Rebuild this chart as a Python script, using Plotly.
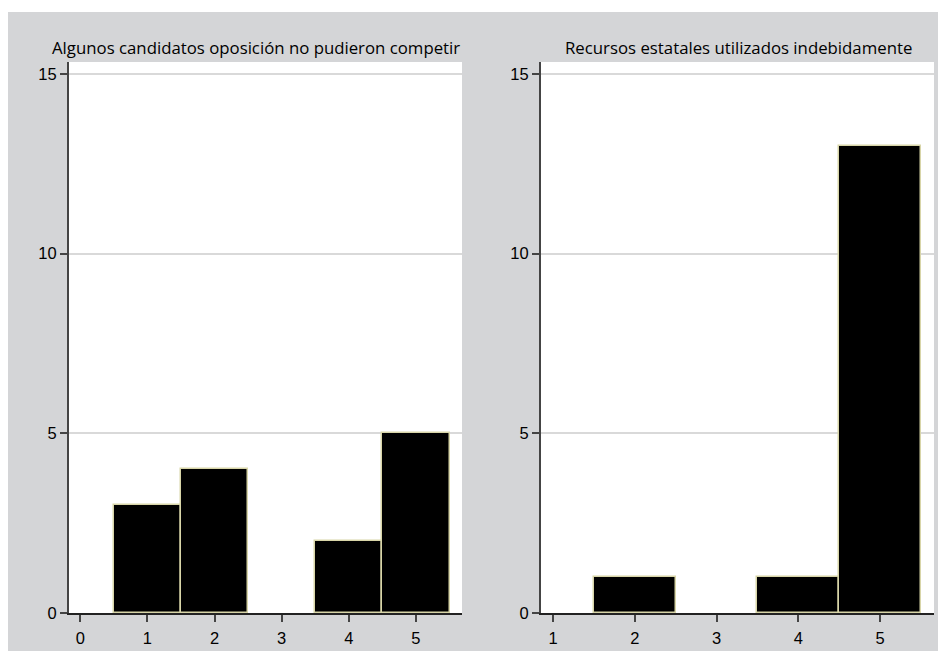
import plotly.graph_objects as go
from plotly.subplots import make_subplots

# page offset of the figure (browser body margin) is 8px; figure size fills the rest
OX, OY = 8, 8
W, H = 938, 643

left_title = "Algunos candidatos oposición no pudieron competir"
left_cats = [1, 2, 3, 4, 5]
left_vals = [3, 4, 0, 2, 5]
left_ticks = [0, 1, 2, 3, 4, 5]

right_title = "Recursos estatales utilizados indebidamente"
right_cats = [2, 3, 4, 5]
right_vals = [1, 0, 1, 13]
right_ticks = [1, 2, 3, 4, 5]

y_ticks = [0, 5, 10, 15]

BG = "#d4d5d7"
EDGE = "#d8d5a8"
GRID = "#d9d9d9"

fig = make_subplots(rows=1, cols=2)

def px_x(p):
    return (p - OX) / W

def px_y(p):
    return (H - (p - OY)) / H

def edge_widths(vals):
    return [0 if v == 0 else 1.5 for v in vals]

fig.add_trace(go.Bar(x=left_cats, y=left_vals, width=1,
                     marker=dict(color="black",
                                 line=dict(color=EDGE, width=edge_widths(left_vals))),
                     showlegend=False), row=1, col=1)
fig.add_trace(go.Bar(x=right_cats, y=right_vals, width=1,
                     marker=dict(color="black",
                                 line=dict(color=EDGE, width=edge_widths(right_vals))),
                     showlegend=False), row=1, col=2)

tickfont = dict(family="Liberation Sans, Arial, sans-serif", size=16.5, color="black")

common_x = dict(showgrid=False, zeroline=False, showline=True, linecolor="#222",
                linewidth=1.5, ticks="outside", ticklen=7, tickwidth=1.5,
                tickcolor="#444", tickfont=tickfont, mirror=False, automargin=False,
                ticklabelstandoff=2)
common_y = dict(showgrid=True, gridcolor=GRID, gridwidth=1.5, zeroline=False,
                showline=True, linecolor="#444", linewidth=2, ticks="outside",
                ticklen=7, tickwidth=1.5, tickcolor="#444", tickfont=tickfont,
                tickvals=y_ticks, range=[0, 15.33], automargin=False)

fig.update_layout(
    width=W, height=H,
    autosize=False,
    margin=dict(l=0, r=0, t=0, b=0, pad=0),
    paper_bgcolor=BG,
    plot_bgcolor="white",
    bargap=0,
    xaxis=dict(domain=[px_x(69), px_x(462)], range=[-0.168, 5.686],
               tickvals=left_ticks, **common_x),
    xaxis2=dict(domain=[px_x(541), px_x(934)], range=[0.853, 5.66],
                tickvals=right_ticks, **common_x),
    yaxis=dict(domain=[px_y(613), px_y(62)], **common_y),
    yaxis2=dict(domain=[px_y(613), px_y(62)], **common_y),
    font=dict(family="Liberation Sans, Arial, sans-serif"),
)

# thin white strip at the very top of the graph region
fig.add_shape(type="rect", xref="paper", yref="paper", x0=0, x1=1,
              y0=px_y(12), y1=1, fillcolor="white", line=dict(width=0), layer="above")

titlefont = dict(family="Open Sans, sans-serif", size=16.8, color="black")
fig.add_annotation(text=left_title, xref="paper", yref="paper",
                   x=px_x(255.5), y=px_y(48), showarrow=False,
                   xanchor="center", yanchor="middle", font=titlefont)
fig.add_annotation(text=right_title, xref="paper", yref="paper",
                   x=px_x(738), y=px_y(48), showarrow=False,
                   xanchor="center", yanchor="middle", font=titlefont)

fig.write_html("out.html")
